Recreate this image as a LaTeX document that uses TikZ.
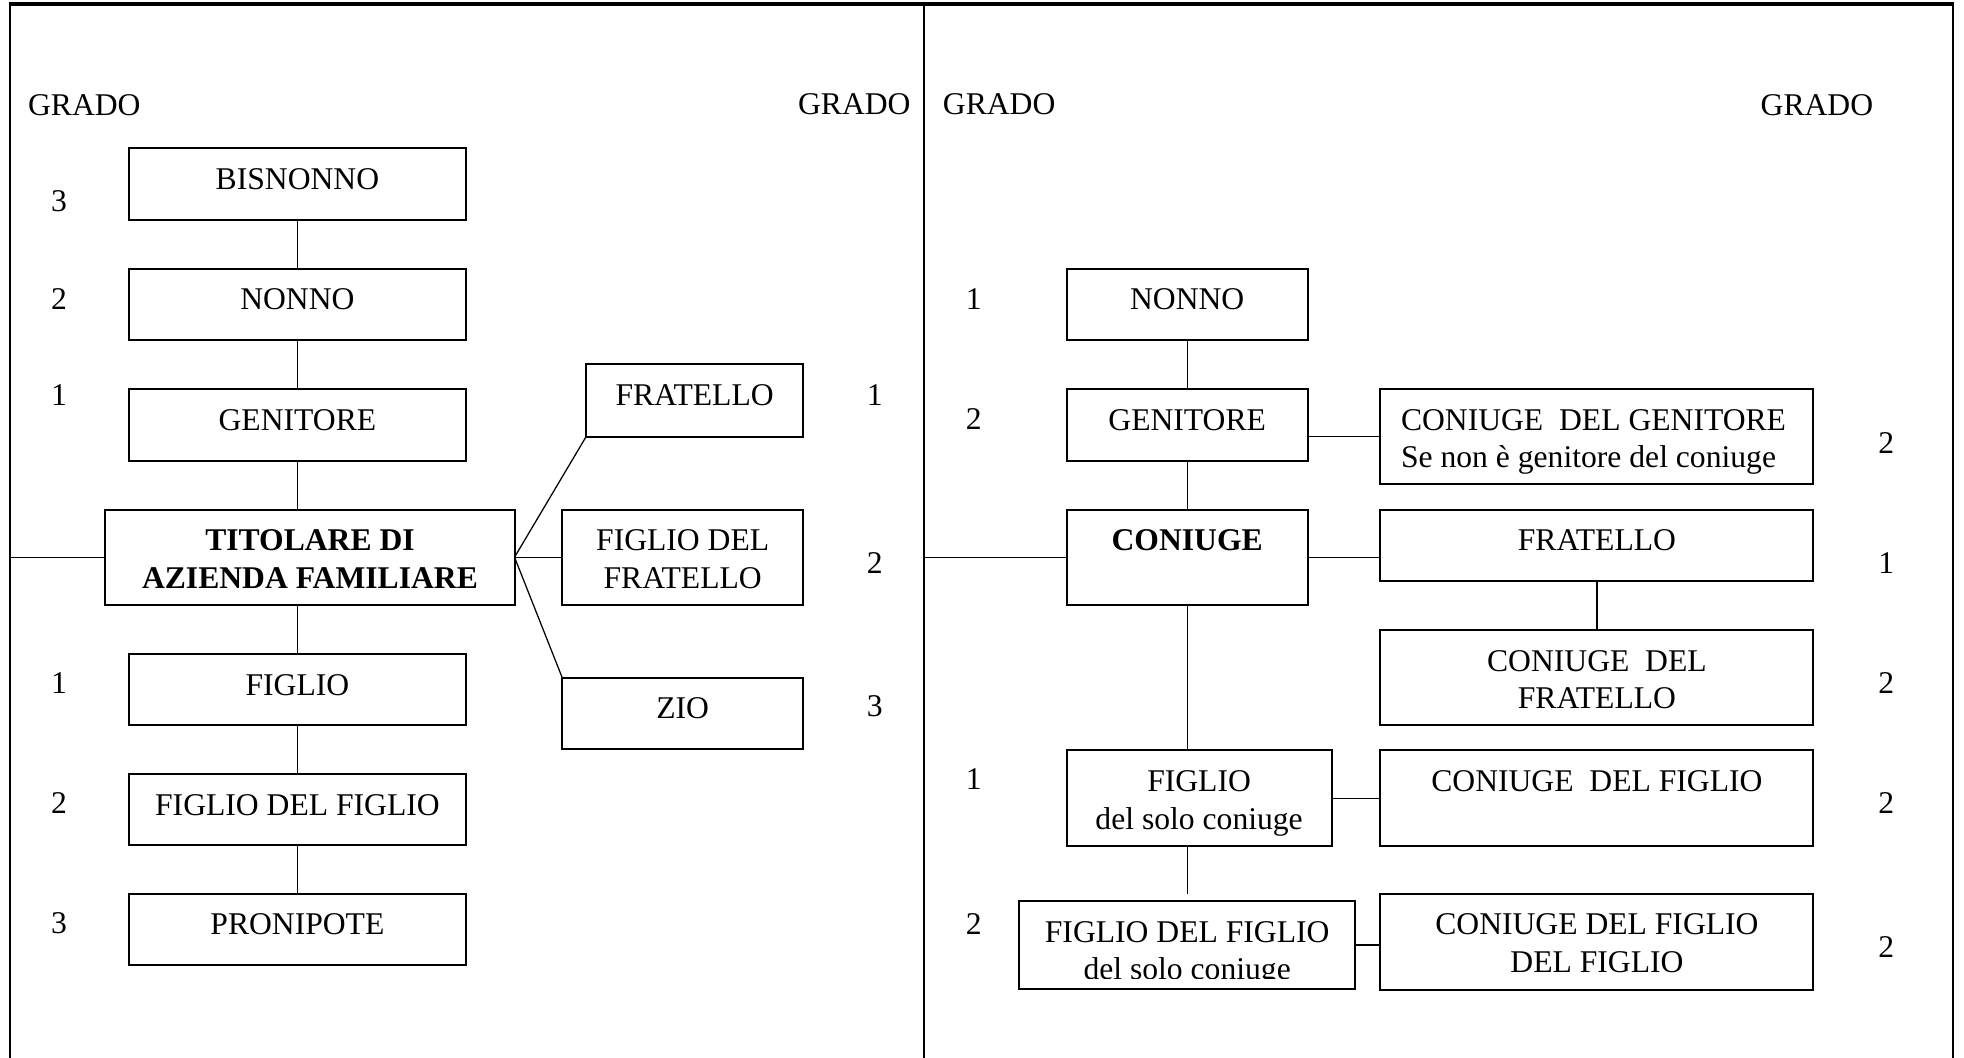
\documentclass[tikz,border=0pt]{standalone}
\usepackage{fontspec}
\setmainfont{Liberation Serif}
\begin{document}
\begin{tikzpicture}[x=0.5pt, y=-0.5pt, line join=miter,
    font=\fontsize{12.6pt}{15pt}\selectfont,
    box/.style={draw, line width=0.8pt, anchor=north west, inner sep=0pt, outer sep=0pt},
    txt/.style={anchor=north, inner sep=0pt, align=center, yshift=-7.9pt},
    grade/.style={inner sep=0pt},
    link/.style={line width=0.5pt}]
    \useasboundingbox (0,0) rectangle (1565,843);
    % cornice
    \draw[line width=0.8pt] (8,843) -- (8,3) (1556,3) -- (1556,843) (736,3) -- (736,843);
    \draw[line width=1.6pt] (7,3) -- (1557,3);
    \node[grade, anchor=west] (gradoA) at (22,84) {GRADO};
    \node[grade, anchor=east] (gradoB) at (726,83) {GRADO};
    \node[grade, anchor=west] (gradoC) at (751,83) {GRADO};
    \node[grade, anchor=east] (gradoD) at (1493,84) {GRADO};
    % titolare
    \node[box, minimum width=134pt, minimum height=28.5pt, label={[txt]north:BISNONNO}] (bisnonno) at (103,118) {};
    \node[box, minimum width=134pt, minimum height=28.5pt, label={[txt]north:NONNO}] (nonno) at (103,214) {};
    \node[box, minimum width=134pt, minimum height=28.5pt, label={[txt]north:GENITORE}] (genitore) at (103,310) {};
    \node[box, minimum width=163pt, minimum height=38pt, label={[txt, font=\fontsize{12.6pt}{15pt}\selectfont\bfseries]north:TITOLARE DI\\AZIENDA FAMILIARE}] (titolare) at (84,406) {};
    \node[box, minimum width=134pt, minimum height=28.5pt, label={[txt]north:FIGLIO}] (figlio) at (103,521) {};
    \node[box, minimum width=134pt, minimum height=28pt, label={[txt]north:FIGLIO DEL FIGLIO}] (nipote) at (103,617) {};
    \node[box, minimum width=134pt, minimum height=28.5pt, label={[txt]north:PRONIPOTE}] (pronipote) at (103,712) {};
    \node[box, minimum width=86.5pt, minimum height=29pt, label={[txt]north:FRATELLO}] (fratello) at (467,290) {};
    \node[box, minimum width=96pt, minimum height=38pt, label={[txt]north:FIGLIO DEL\\FRATELLO}] (figliofr) at (448,406) {};
    \node[box, minimum width=96pt, minimum height=28.5pt, label={[txt]north:ZIO}] (zio) at (448,540) {};
    \node[grade] (g1) at (47,160) {3};
    \node[grade] (g2) at (47,238) {2};
    \node[grade] (g3) at (47,315) {1};
    \node[grade] (g4) at (47,544) {1};
    \node[grade] (g5) at (47,640) {2};
    \node[grade] (g6) at (47,736) {3};
    \node[grade] (g7) at (697,315) {1};
    \node[grade] (g8) at (697,449) {2};
    \node[grade] (g9) at (697,563) {3};
    \coordinate (bordoA) at (8,444);
    \draw[link] (bordoA) -- (titolare.west);
    \draw[link] (bisnonno) -- (nonno) (nonno) -- (genitore);
    \draw[link] (genitore.south) -- (genitore.south |- titolare.north);
    \draw[link] (figlio.north |- titolare.south) -- (figlio.north);
    \draw[link] (figlio) -- (nipote) (nipote) -- (pronipote);
    \draw[link] (titolare.east) -- (fratello.south west);
    \draw[link] (titolare.east) -- (figliofr.west);
    \draw[link] (titolare.east) -- (zio.north west);
    % coniuge
    \node[box, minimum width=96pt, minimum height=28.5pt, label={[txt]north:NONNO}] (cnonno) at (850,214) {};
    \node[box, minimum width=96pt, minimum height=28.5pt, label={[txt]north:GENITORE}] (cgenitore) at (850,310) {};
    \node[box, minimum width=172.5pt, minimum height=38pt, label={[txt, anchor=north west, align=left, xshift=8pt]north west:CONIUGE\ \ DEL GENITORE\\Se non è genitore del coniuge}] (cgencon) at (1100,310) {};
    \node[box, minimum width=96pt, minimum height=38pt, label={[txt, font=\fontsize{12.6pt}{15pt}\selectfont\bfseries]north:CONIUGE}] (coniuge) at (850,406) {};
    \node[box, minimum width=172.5pt, minimum height=28.5pt, label={[txt]north:FRATELLO}] (cfratello) at (1100,406) {};
    \node[box, minimum width=172.5pt, minimum height=38pt, label={[txt]north:CONIUGE\ \ DEL\\FRATELLO}] (cfratcon) at (1100,502) {};
    \node[box, minimum width=105.5pt, minimum height=38pt, label={[txt]north:FIGLIO\\del solo coniuge}] (cfiglio) at (850,598) {};
    \node[box, minimum width=172.5pt, minimum height=38pt, label={[txt]north:CONIUGE\ \ DEL FIGLIO}] (cfigcon) at (1100,598) {};
    \node[box, minimum width=134pt, minimum height=35pt] (cnipote) at (812,718) {};
    \begin{scope}
        \clip (812,718) rectangle (1080,780);
        \node[txt] (tnipote) at (cnipote.north) {FIGLIO DEL FIGLIO\\del solo coniuge};
    \end{scope}
    \node[box, minimum width=172.5pt, minimum height=38.5pt, label={[txt]north:CONIUGE DEL FIGLIO\\DEL FIGLIO}] (cnipcon) at (1100,712) {};
    \node[grade] (h1) at (776,238) {1};
    \node[grade] (h2) at (776,334) {2};
    \node[grade] (h3) at (776,621) {1};
    \node[grade] (h4) at (776,736) {2};
    \node[grade] (h5) at (1503,353) {2};
    \node[grade] (h6) at (1503,449) {1};
    \node[grade] (h7) at (1503,544) {2};
    \node[grade] (h8) at (1503,640) {2};
    \node[grade] (h9) at (1503,755) {2};
    \coordinate (bordoB) at (736,444);
    \coordinate (finefiglio) at (946,712);
    \draw[link] (bordoB) -- (coniuge.west);
    \draw[link] (cnonno) -- (cgenitore) (cgenitore) -- (coniuge);
    \draw[link] (cgenitore.east |- cgencon.west) -- (cgencon.west);
    \draw[link] (coniuge.east) -- (coniuge.east -| cfratello.west);
    \draw[link] (cfratello) -- (cfratcon);
    \draw[link] (coniuge.south) -- (coniuge.south |- cfiglio.north);
    \draw[link] (cfiglio.east) -- (cfigcon.west);
    \draw[link] (finefiglio |- cfiglio.south) -- (finefiglio);
    \draw[link] (cnipote.east) -- (cnipote.east -| cnipcon.west);
\end{tikzpicture}
\end{document}
